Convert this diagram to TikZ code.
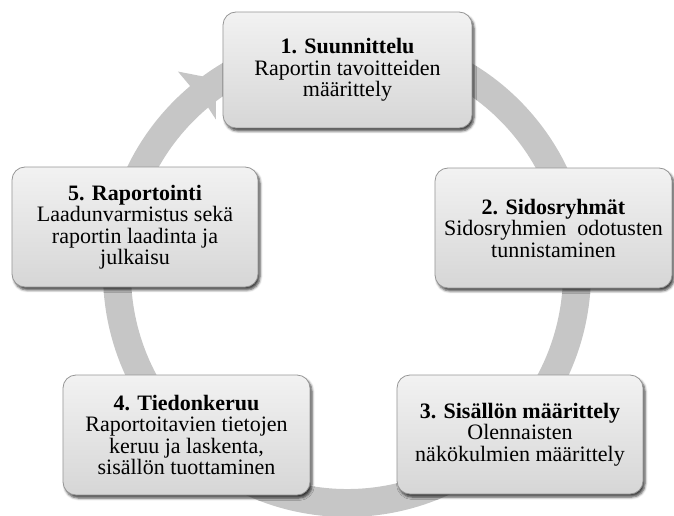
\documentclass[tikz,border=0pt]{standalone}
\usepackage{fontspec}
\setmainfont{Liberation Serif}
\usetikzlibrary{shadows.blur}
\definecolor{ringc}{RGB}{198,198,198}
\definecolor{boxtop}{RGB}{242,242,242}
\definecolor{boxbot}{RGB}{214,214,214}
\definecolor{boxline}{RGB}{150,150,150}
\begin{document}
\begin{tikzpicture}[x=1pt,y=1pt,
  stagebox/.style={rounded corners=13pt, top color=boxtop, bottom color=boxbot,
    draw=boxline, line width=0.8pt,
    blur shadow={shadow xshift=2pt, shadow yshift=-3pt, shadow blur radius=2.5pt, shadow opacity=75},
    align=center, font=\fontsize{22}{21.5}\selectfont, inner sep=0pt}]
\useasboundingbox (0,0) rectangle (674,515);
\begin{scope}[shift={(347,242)}]
  \fill[ringc] (130:244) arc[start angle=130,end angle=-280,radius=244]
    -- (-280:216) arc[start angle=-280,end angle=130,radius=216]
    -- (130.5:202) -- (124:234) -- (130:263) -- cycle;
\end{scope}
\node[stagebox, minimum width=249pt, minimum height=116pt] (b1) at (347.5,445)
  {\textbf{1. Suunnittelu}\\Raportin tavoitteiden\\määrittely};
\node[stagebox, minimum width=237pt, minimum height=120pt] (b2) at (553.5,287)
  {\textbf{2. Sidosryhmät}\\Sidosryhmien\ \ odotusten\\tunnistaminen};
\node[stagebox, minimum width=246pt, minimum height=119pt] (b3) at (520,80.5)
  {\textbf{3. Sisällön määrittely}\\Olennaisten\\näkökulmien määrittely};
\node[stagebox, minimum width=247pt, minimum height=120pt] (b4) at (186.5,80)
  {\textbf{4. Tiedonkeruu}\\Raportoitavien tietojen\\keruu ja laskenta,\\sisällön tuottaminen};
\node[stagebox, minimum width=246pt, minimum height=120pt] (b5) at (135,288)
  {\textbf{5. Raportointi}\\Laadunvarmistus sekä\\raportin laadinta ja\\julkaisu};
\end{tikzpicture}
\end{document}
